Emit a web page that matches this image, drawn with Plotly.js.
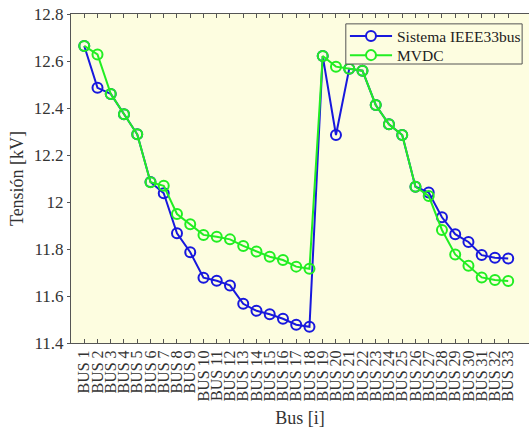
<!DOCTYPE html>
<html><head><meta charset="utf-8">
<script src="https://cdn.plot.ly/plotly-3.0.1.min.js"></script>
<style>html,body{margin:0;padding:0;background:#fff}#c{width:529px;height:428px}</style>
</head><body><div id="c"></div>
<script>
const buses = Array.from({length:33},(_,i)=>i+1);
const busLabels = buses.map(b=>'BUS '+b);
const ieee33 = [12.664,12.486,12.460,12.373,12.288,12.085,12.037,11.867,11.786,11.678,11.665,11.645,11.567,11.537,11.522,11.503,11.478,11.469,12.621,12.285,12.567,12.559,12.413,12.331,12.285,12.065,12.040,11.935,11.863,11.830,11.774,11.763,11.760];
const mvdc = [12.664,12.628,12.460,12.373,12.288,12.084,12.069,11.949,11.905,11.860,11.852,11.841,11.813,11.789,11.767,11.753,11.725,11.716,12.621,12.576,12.567,12.559,12.413,12.331,12.285,12.065,12.026,11.881,11.777,11.729,11.679,11.668,11.664];
const seriesNames = ['Sistema IEEE33bus','MVDC'];
const seriesColors = ['#1818dd','#22ee22'];
const yTicks = [11.4,11.6,11.8,12,12.2,12.4,12.6,12.8];

const font = 'Liberation Serif';
const mk = (y,name,color)=>({x:buses,y:y,name:name,type:'scatter',mode:'lines+markers',showlegend:false,
  line:{color:color,width:2},marker:{symbol:'circle-open',size:10,color:color,line:{width:2,color:color}}});
const data=[mk(ieee33,seriesNames[0],seriesColors[0]),mk(mvdc,seriesNames[1],seriesColors[1])];

// legend drawn in paper coordinates
const shapes=[{type:'rect',xref:'paper',yref:'paper',x0:0.600,x1:0.985,y0:0.848,y1:0.970,
  fillcolor:'#fdfde0',line:{color:'#555',width:1}}];
const annotations=[];
const ly=[0.933,0.875], rx=0.0109, ry=0.0152;
seriesNames.forEach((n,i)=>{
  shapes.push({type:'line',xref:'paper',yref:'paper',x0:0.609,x1:0.701,y0:ly[i],y1:ly[i],line:{color:seriesColors[i],width:2}});
  shapes.push({type:'circle',xref:'paper',yref:'paper',x0:0.655-rx,x1:0.655+rx,y0:ly[i]-ry,y1:ly[i]+ry,fillcolor:'#fdfde0',line:{color:seriesColors[i],width:2}});
  annotations.push({xref:'paper',yref:'paper',x:0.708,y:ly[i],xanchor:'left',yanchor:'middle',showarrow:false,
    text:n,font:{family:font,size:15.5,color:'#222'}});
});

const layout={width:529,height:428,margin:{l:71,r:0,t:14,b:85},
  paper_bgcolor:'#ffffff',plot_bgcolor:'#fdfde0',
  font:{family:font,color:'#333',size:15},showlegend:false,shapes:shapes,annotations:annotations,
  xaxis:{range:[0,34.57],tickvals:buses,ticktext:busLabels,tickangle:-90,
    showgrid:false,zeroline:false,showline:true,linecolor:'#555',linewidth:1,mirror:'ticks',
    ticks:'inside',ticklen:4,tickcolor:'#555',tickfont:{family:font,size:16,color:'#333'},
    title:{text:'Bus [i]',font:{family:font,size:18,color:'#333'},standoff:10}},
  yaxis:{range:[11.4,12.8],tickvals:yTicks,ticktext:yTicks.map(v=>String(v)),
    showgrid:false,zeroline:false,showline:true,linecolor:'#555',linewidth:1,
    ticks:'outside',ticklen:3,tickcolor:'#555',tickfont:{family:font,size:17,color:'#333'},
    title:{text:'Tensión [kV]',font:{family:font,size:18,color:'#333'},standoff:5}}};
Plotly.newPlot('c',data,layout,{displayModeBar:false,staticPlot:true});
</script></body></html>
